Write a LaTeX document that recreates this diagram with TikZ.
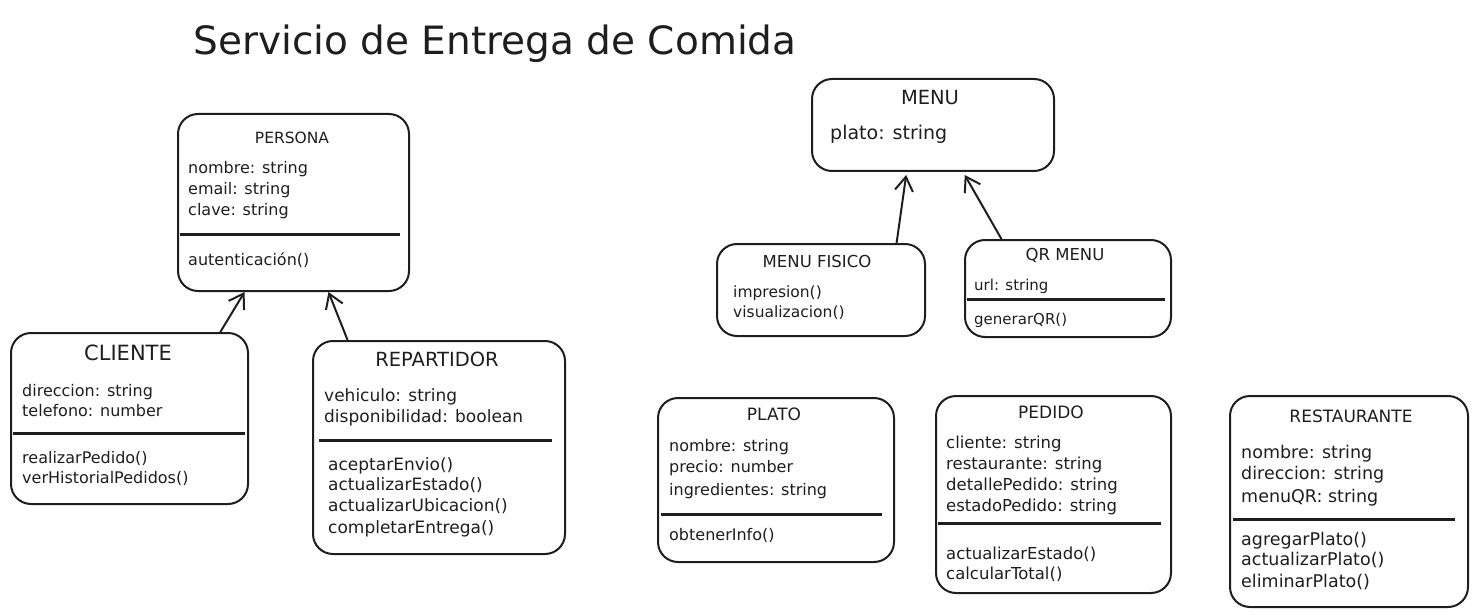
\documentclass[tikz,border=0pt]{standalone}
\usepackage{fontspec}
\setmainfont{DejaVu Sans}
\usetikzlibrary{arrows.meta,calc}
\definecolor{ink}{HTML}{1E1E1E}
\tikzset{
  box/.style={draw=ink, line width=2pt, rounded corners=20pt, anchor=north west, inner sep=0pt},
  lbl/.style={anchor=mid west, inner sep=0pt, text=ink, yshift=-4pt},
  ttl/.style={anchor=mid, inner sep=0pt, text=ink, yshift=-4pt},
  divider/.style={draw=ink, line width=3pt},
  inh/.style={draw=ink, line width=2pt, -{Straight Barb[length=14pt,width=18pt,line width=2pt]}},
  fs/.style={font=\fontsize{#1}{#1}\selectfont},
}
\begin{document}
\begin{tikzpicture}[x=1pt,y=-1pt]
\useasboundingbox (0,0) rectangle (1473,615);
% title
\node[ttl, fs=39] (title) at (495,48) {Servicio de Entrega de Comida};

% PERSONA
\node[box, minimum width=231pt, minimum height=177pt] (persona) at (177,113) {};
\node[ttl,fs=15.5] (personaT) at (292,137) {PERSONA};
\node[lbl,fs=16] (pe1) at (188,167) {nombre: string};
\node[lbl,fs=16] (pe2) at (188,188) {email: string};
\node[lbl,fs=16] (pe3) at (188,209) {clave: string};
\draw[divider] (180,234) -- (400,234);
\node[lbl,fs=16] (pe4) at (188,259) {autenticación()};

% CLIENTE
\node[box, minimum width=237pt, minimum height=171pt] (cliente) at (10,332) {};
\node[ttl,fs=21] (clienteT) at (128,354) {CLIENTE};
\node[lbl,fs=16] (c1) at (22,390) {direccion: string};
\node[lbl,fs=16] (c2) at (22,410) {telefono: number};
\draw[divider] (13,433) -- (245,433);
\node[lbl,fs=16] (c3) at (22,457) {realizarPedido()};
\node[lbl,fs=16] (c4) at (22,477) {verHistorialPedidos()};

% REPARTIDOR
\node[box, minimum width=252pt, minimum height=213pt] (repartidor) at (312,340) {};
\node[ttl,fs=19.5] (repartidorT) at (437,360) {REPARTIDOR};
\node[lbl,fs=17] (r1) at (324,395) {vehiculo: string};
\node[lbl,fs=17] (r2) at (324,416) {disponibilidad: boolean};
\draw[divider] (319,440) -- (552,440);
\node[lbl,fs=17] (r3) at (328,464) {aceptarEnvio()};
\node[lbl,fs=17] (r4) at (328,484) {actualizarEstado()};
\node[lbl,fs=17] (r5) at (328,505) {actualizarUbicacion()};
\node[lbl,fs=17] (r6) at (328,527) {completarEntrega()};

% MENU
\node[box, minimum width=242pt, minimum height=92pt] (menu) at (811,78) {};
\node[ttl,fs=19.5] (menuT) at (930,98) {MENU};
\node[lbl,fs=19] (m1) at (830,133) {plato: string};

% MENU FISICO
\node[box, minimum width=208pt, minimum height=92pt] (fisico) at (716,243) {};
\node[ttl,fs=16.5] (fisicoT) at (817,261) {MENU FISICO};
\node[lbl,fs=15.5] (mf1) at (733,291) {impresion()};
\node[lbl,fs=15.5] (mf2) at (733,311) {visualizacion()};

% QR MENU
\node[box, minimum width=206pt, minimum height=97pt] (qr) at (964,239) {};
\node[ttl,fs=16.5] (qrT) at (1065,254) {QR MENU};
\node[lbl,fs=15] (q1) at (974,284) {url: string};
\draw[divider] (967,299) -- (1165,299);
\node[lbl,fs=15] (q2) at (974,318) {generarQR()};

% PLATO
\node[box, minimum width=236pt, minimum height=164pt] (plato) at (657,397) {};
\node[ttl,fs=17] (platoT) at (774,414) {PLATO};
\node[lbl,fs=16] (p1) at (669,445) {nombre: string};
\node[lbl,fs=16] (p2) at (669,466) {precio: number};
\node[lbl,fs=16] (p3) at (669,489) {ingredientes: string};
\draw[divider] (661,514) -- (882,514);
\node[lbl,fs=16] (p4) at (669,534) {obtenerInfo()};

% PEDIDO
\node[box, minimum width=235pt, minimum height=197pt] (pedido) at (935,395) {};
\node[ttl,fs=17] (pedidoT) at (1051,412) {PEDIDO};
\node[lbl,fs=16.5] (d1) at (946,442) {cliente: string};
\node[lbl,fs=16.5] (d2) at (946,463) {restaurante: string};
\node[lbl,fs=16.5] (d3) at (946,484) {detallePedido: string};
\node[lbl,fs=16.5] (d4) at (946,505) {estadoPedido: string};
\draw[divider] (938,523) -- (1161,523);
\node[lbl,fs=16.5] (d5) at (946,553) {actualizarEstado()};
\node[lbl,fs=16.5] (d6) at (946,573) {calcularTotal()};

% RESTAURANTE
\node[box, minimum width=238pt, minimum height=211pt] (rest) at (1229,395) {};
\node[ttl,fs=17] (restT) at (1351,416) {RESTAURANTE};
\node[lbl,fs=17.5] (s1) at (1241,452) {nombre: string};
\node[lbl,fs=17.5] (s2) at (1241,473) {direccion: string};
\node[lbl,fs=17.5] (s3) at (1241,496) {menuQR: string};
\draw[divider] (1233,519) -- (1455,519);
\node[lbl,fs=17.5] (s4) at (1241,539) {agregarPlato()};
\node[lbl,fs=17.5] (s5) at (1241,559) {actualizarPlato()};
\node[lbl,fs=17.5] (s6) at (1241,581) {eliminarPlato()};

% inheritance arrows
\draw[inh] ($(cliente.north west)!0.88!(cliente.north east)$) -- ($(persona.south west)!0.29!(persona.south east)$);
\draw[inh] ($(repartidor.north west)!0.14!(repartidor.north east)$) -- ($(persona.south west)!0.65!(persona.south east)$);
\draw[inh] ($(fisico.north west)!0.86!(fisico.north east)$) -- ($(menu.south west)!0.39!(menu.south east)+(0,3)$);
\draw[inh] ($(qr.north west)!0.18!(qr.north east)$) -- ($(menu.south west)!0.63!(menu.south east)+(0,3)$);
\end{tikzpicture}
\end{document}
